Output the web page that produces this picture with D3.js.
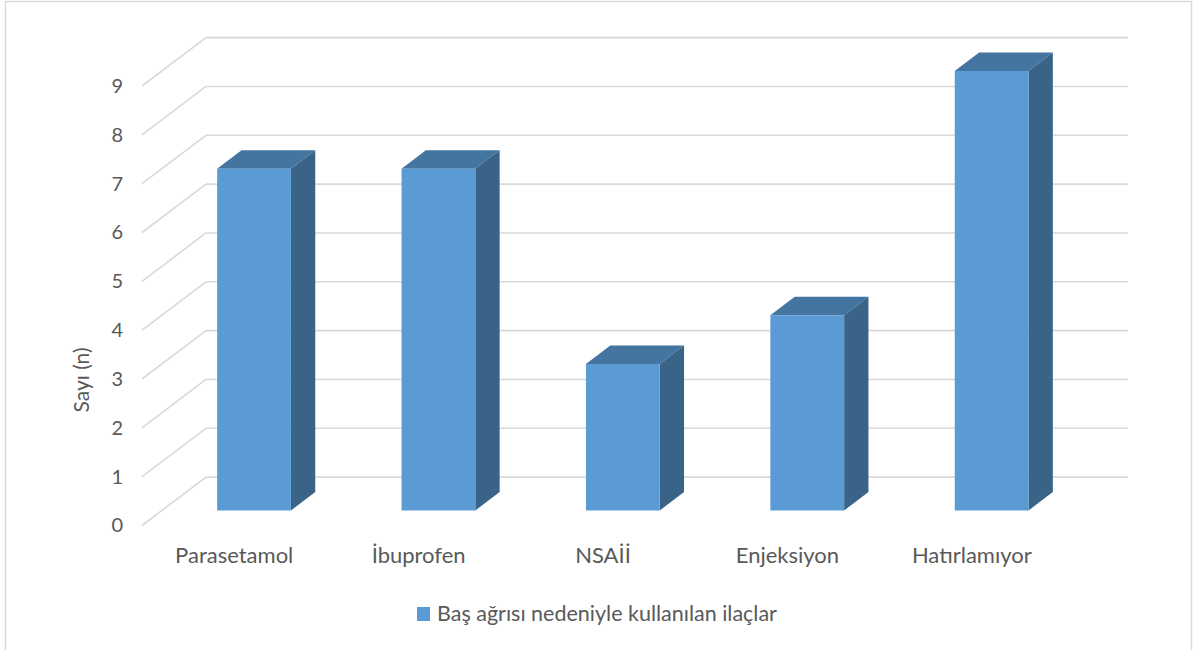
<!DOCTYPE html>
<html>
<head>
<meta charset="utf-8">
<script src="https://cdn.jsdelivr.net/npm/d3@7"></script>
<style>
  html, body { margin: 0; padding: 0; background: #fff; }
  svg { display: block; font-family: Lato, "Open Sans", sans-serif; }
</style>
</head>
<body>
<svg id="chart" width="1194" height="650"></svg>
<script>
// Chart data
const categories = ["Parasetamol", "İbuprofen", "NSAİİ", "Enjeksiyon", "Hatırlamıyor"];
const values = [7, 7, 3, 4, 9];
const yTicks = [0, 1, 2, 3, 4, 5, 6, 7, 8, 9];
const seriesName = "Baş ağrısı nedeniyle kullanılan ilaçlar";
const axisTitle = "Sayı (n)";

const svg = d3.select("#chart");

// Oblique 3D projection: full depth shifts points right and up
const DEPTH_X = 64, DEPTH_Y = 48.4;
const BAR_Z0 = 0.31, BAR_Z1 = 0.69;

// Scales on the front plane (z = 0)
const x = d3.scaleBand().domain(categories).range([142, 1064]).paddingInner(0.6).paddingOuter(0.3);
const y = d3.scaleLinear().domain([0, 9]).range([525.5, 86]);

const proj = (px, v, z) => [px + DEPTH_X * z, y(v) - DEPTH_Y * z];

// Chart area border
svg.append("rect")
  .attr("x", 5.5).attr("y", 1.5)
  .attr("width", 1186).attr("height", 680)
  .attr("fill", "#fff").attr("stroke", "#d9d9d9").attr("stroke-width", 1.5);

const grid = svg.append("g").attr("stroke", "#d9d9d9").attr("stroke-width", 1.6).attr("fill", "none");
const left = x.range()[0], right = x.range()[1];

// Back wall gridlines
grid.selectAll("line.back").data(yTicks).join("line")
  .attr("class", "back")
  .attr("x1", d => proj(left, d, 1)[0]).attr("y1", d => proj(left, d, 1)[1])
  .attr("x2", d => proj(right, d, 1)[0]).attr("y2", d => proj(right, d, 1)[1]);

// Side wall gridlines
grid.selectAll("line.side").data(yTicks).join("line")
  .attr("class", "side")
  .attr("x1", d => proj(left, d, 0)[0]).attr("y1", d => proj(left, d, 0)[1])
  .attr("x2", d => proj(left, d, 1)[0]).attr("y2", d => proj(left, d, 1)[1]);

// 3D bars: top, right side, then front face
const data = categories.map((c, i) => ({ c, v: values[i] }));
const pts = arr => arr.map(p => p.join(",")).join(" ");

svg.append("g").selectAll("g").data(data).join("g").each(function (d) {
  const g = d3.select(this);
  const x0 = x(d.c);
  const x1 = x0 + x.bandwidth();
  const fbl = proj(x0, 0, BAR_Z0), fbr = proj(x1, 0, BAR_Z0);
  const ftl = proj(x0, d.v, BAR_Z0), ftr = proj(x1, d.v, BAR_Z0);
  const btl = proj(x0, d.v, BAR_Z1), btr = proj(x1, d.v, BAR_Z1);
  const bbr = proj(x1, 0, BAR_Z1);
  g.append("polygon").attr("points", pts([ftl, ftr, btr, btl])).attr("fill", "#4474a0");
  g.append("polygon").attr("points", pts([fbr, ftr, btr, bbr])).attr("fill", "#3a6388");
  g.append("polygon").attr("points", pts([fbl, fbr, ftr, ftl])).attr("fill", "#5b9bd5");
});

// Value axis labels
const yAxis = svg.append("g")
  .attr("transform", "translate(123,0)")
  .call(d3.axisLeft(y).tickValues(yTicks).tickSize(0).tickPadding(0).tickFormat(d3.format("d")));
yAxis.select(".domain").remove();
yAxis.selectAll("text").attr("fill", "#595959").style("font-size", "20px").style("font-family", "Lato, sans-serif");

// Category labels
const xAxis = svg.append("g")
  .attr("transform", "translate(0,563)")
  .call(d3.axisBottom(x).tickSize(0).tickPadding(0));
xAxis.select(".domain").remove();
xAxis.selectAll("text").attr("y", 0).attr("dy", 0)
  .attr("fill", "#595959").style("font-size", "22px").style("font-family", "Lato, sans-serif");

// Axis title
svg.append("text")
  .attr("transform", "translate(89,380) rotate(-90)")
  .attr("text-anchor", "middle")
  .attr("fill", "#595959")
  .style("font-size", "21px")
  .text(axisTitle);

// Legend
const legend = svg.append("g").attr("transform", "translate(417,607)");
legend.append("rect").attr("width", 13).attr("height", 14).attr("fill", "#5b9bd5");
legend.append("text")
  .attr("x", 20).attr("y", 14)
  .attr("fill", "#595959")
  .style("font-size", "21.5px")
  .text(seriesName);
</script>
</body>
</html>
